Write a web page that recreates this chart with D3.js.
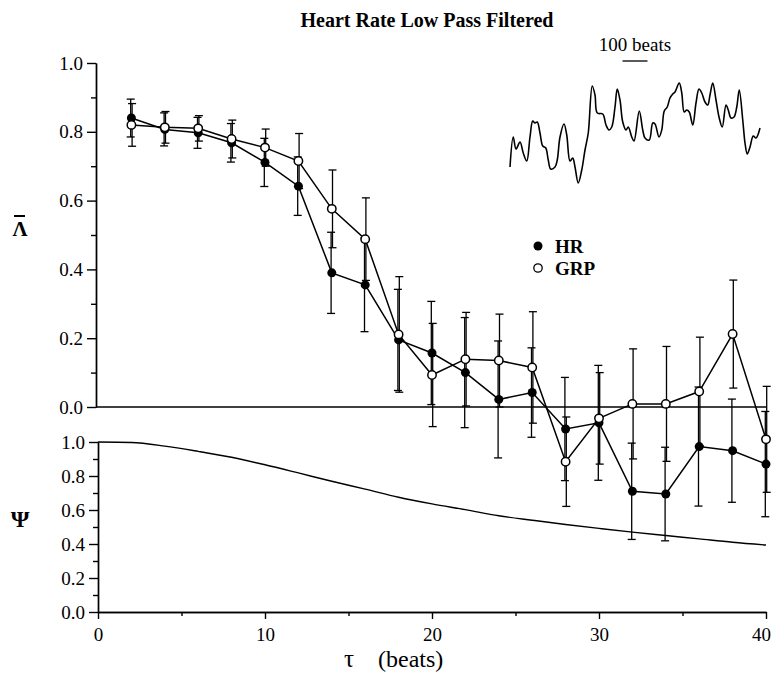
<!DOCTYPE html>
<html>
<head>
<meta charset="utf-8">
<script src="https://cdn.jsdelivr.net/npm/d3@7"></script>
<style>
  body { margin: 0; background: #fff; }
  svg { display: block; font-family: "Liberation Serif", "Times New Roman", serif; }
  .axis path, .axis line { stroke: #000; stroke-width: 1.4; }
  .axis text { font-family: "Liberation Serif", serif; font-size: 19px; fill: #000; }
</style>
</head>
<body>
<svg id="chart" width="772" height="676"></svg>
<script>
// lag values (beats)
const tau = [2, 4, 6, 8, 10, 12, 14, 16, 18, 20, 22, 24, 26, 28, 30, 32, 34, 36, 38, 40];

// HR (filled circles)
const hrMean = [0.84, 0.807, 0.797, 0.768, 0.711, 0.642, 0.39, 0.355, 0.195, 0.157,
                0.10, 0.022, 0.042, -0.064, -0.046, -0.245, -0.253, -0.115, -0.127, -0.166];
const hrErr  = [0.055, 0.048, 0.045, 0.056, 0.07, 0.085, 0.118, 0.136, 0.147, 0.15,
                0.16, 0.17, 0.13, 0.15, 0.167, 0.14, 0.136, 0.173, 0.15, 0.153];

// GRP (open circles)
const grpMean = [0.82, 0.813, 0.81, 0.779, 0.754, 0.715, 0.576, 0.488, 0.211, 0.093,
                 0.139, 0.135, 0.115, -0.159, -0.033, 0.009, 0.009, 0.045, 0.212, -0.094];
const grpErr  = [0.062, 0.046, 0.037, 0.055, 0.054, 0.08, 0.113, 0.12, 0.168, 0.15,
                 0.136, 0.135, 0.162, 0.13, 0.133, 0.16, 0.167, 0.158, 0.157, 0.154];

// Psi curve
const psiTau = [0, 2, 4, 6, 8, 10, 12, 14, 16, 18, 20, 22, 24, 26, 28, 30, 32, 34, 36, 38, 40];
const psiVal = [1.0, 0.997, 0.976, 0.945, 0.91, 0.866, 0.818, 0.769, 0.723, 0.675, 0.636,
                0.602, 0.566, 0.54, 0.515, 0.492, 0.47, 0.45, 0.43, 0.41, 0.394];

// inset trace: heart rate (arbitrary units) vs beat number
const insetBeat = [0, 13, 24, 40, 53, 67, 80, 91, 100, 109, 120, 131, 143, 153, 163, 180, 189, 200,
  216, 227, 240, 251, 260, 273, 287, 300, 313, 329, 340, 349, 371, 384, 396, 407, 420, 429, 440,
  451, 464, 473, 487, 496, 517, 531, 540, 557, 571, 580, 596, 607, 617, 629, 640, 651, 660, 677,
  687, 697, 707, 717, 731, 744, 756, 767, 780, 791, 800, 811, 824, 836, 849, 864, 873, 884, 896,
  907, 917, 931, 940, 949, 960, 973, 984, 1000];
const insetRate = [18, 48, 36, 43, 32, 24, 48, 64, 62, 63, 52, 39, 37, 25, 16, 18, 25, 48,
  61, 50, 24, 27, 18, 2, 15, 35, 52, 99, 90, 72, 71, 60, 55, 58, 78, 96, 85,
  63, 55, 58, 48, 44, 74, 55, 47, 45, 62, 61, 48, 55, 74, 78, 87, 91, 93, 102,
  92, 73, 75, 73, 60, 82, 96, 92, 83, 80, 90, 102, 85, 68, 58, 80, 75, 67, 68,
  78, 95, 65, 42, 31, 38, 49, 47, 57];

const lamTicks = [0, 0.2, 0.4, 0.6, 0.8, 1.0];
const lamMinor = [0.1, 0.3, 0.5, 0.7, 0.9];
const xTicks = [0, 10, 20, 30, 40];
const xMinor = [5, 15, 25, 35];

const svg = d3.select('#chart');

const x = d3.scaleLinear().domain([0, 40]).range([98, 766]);
const yTop = d3.scaleLinear().domain([0, 1]).range([407, 63]);
const yBot = d3.scaleLinear().domain([0, 1]).range([612, 442]);

// title
svg.append('text')
    .attr('x', 427).attr('y', 27)
    .attr('text-anchor', 'middle')
    .style('font-size', '20px')
    .style('font-weight', 'bold')
    .text('Heart Rate Low Pass Filtered');

// top y axis (Lambda)
svg.append('g').attr('class', 'axis')
    .attr('transform', 'translate(96,0)')
    .call(d3.axisLeft(yTop).tickValues(lamTicks).tickSize(9).tickSizeOuter(0)
        .tickPadding(4).tickFormat(d3.format('.1f')));
svg.append('g').attr('class', 'axis')
    .attr('transform', 'translate(96,0)')
    .call(d3.axisLeft(yTop).tickValues(lamMinor).tickSize(5).tickSizeOuter(0).tickFormat(''));

// zero line of top panel
svg.append('line')
    .attr('x1', 96).attr('x2', x(40))
    .attr('y1', yTop(0)).attr('y2', yTop(0))
    .attr('stroke', '#000').attr('stroke-width', 1.5);

// bottom y axis (Psi)
svg.append('g').attr('class', 'axis')
    .attr('transform', `translate(${x(0)},0)`)
    .call(d3.axisLeft(yBot).tickValues(lamTicks).tickSize(9).tickSizeOuter(0)
        .tickPadding(4).tickFormat(d3.format('.1f')));
svg.append('g').attr('class', 'axis')
    .attr('transform', `translate(${x(0)},0)`)
    .call(d3.axisLeft(yBot).tickValues(lamMinor).tickSize(5).tickSizeOuter(0).tickFormat(''));

// x axis
const xAxis = svg.append('g').attr('class', 'axis')
    .attr('transform', `translate(0,${yBot(0)})`)
    .call(d3.axisBottom(x).tickValues(xTicks).tickSize(7).tickSizeOuter(0).tickPadding(9));
// last label sits against the right edge
xAxis.selectAll('.tick text').filter(d => d === 40).attr('dx', -5);
svg.append('g').attr('class', 'axis')
    .attr('transform', `translate(0,${yBot(0)})`)
    .call(d3.axisBottom(x).tickValues(xMinor).tickSize(4).tickSizeOuter(0).tickFormat(''));

// axis titles
svg.append('text').attr('x', 20).attr('y', 236)
    .attr('text-anchor', 'middle').style('font-size', '21px').style('font-weight', 'bold')
    .text('Λ');
svg.append('line').attr('x1', 14).attr('x2', 25).attr('y1', 216).attr('y2', 216)
    .attr('stroke', '#000').attr('stroke-width', 2);
svg.append('text').attr('x', 20).attr('y', 527)
    .attr('text-anchor', 'middle').style('font-size', '24px').style('font-weight', 'bold')
    .text('Ψ');
svg.append('text').attr('x', 349).attr('y', 667)
    .attr('text-anchor', 'middle').style('font-size', '25px')
    .text('τ');
svg.append('text').attr('x', 378).attr('y', 667)
    .style('font-size', '24px')
    .text('(beats)');

// psi curve
svg.append('path')
    .datum(psiTau.map((t, i) => [t, psiVal[i]]))
    .attr('fill', 'none').attr('stroke', '#000').attr('stroke-width', 1.4)
    .attr('d', d3.line().x(d => x(d[0])).y(d => yBot(d[1])).curve(d3.curveMonotoneX));

// error bars (two series side by side)
function errorBars(means, errs, dx) {
    const g = svg.append('g').attr('stroke', '#000').attr('stroke-width', 1.3);
    tau.forEach((t, i) => {
        const cx = x(t) + dx;
        const lo = yTop(means[i] - errs[i]);
        const hi = yTop(means[i] + errs[i]);
        g.append('line').attr('x1', cx).attr('x2', cx).attr('y1', lo).attr('y2', hi);
        g.append('line').attr('x1', cx - 4).attr('x2', cx + 4).attr('y1', lo).attr('y2', lo);
        g.append('line').attr('x1', cx - 4).attr('x2', cx + 4).attr('y1', hi).attr('y2', hi);
    });
}
errorBars(hrMean, hrErr, -0.7);
errorBars(grpMean, grpErr, 0.7);

const line = d3.line().x(d => x(d[0])).y(d => yTop(d[1]));
svg.append('path')
    .datum(tau.map((t, i) => [t, hrMean[i]]))
    .attr('fill', 'none').attr('stroke', '#000').attr('stroke-width', 1.5)
    .attr('d', line);
svg.append('path')
    .datum(tau.map((t, i) => [t, grpMean[i]]))
    .attr('fill', 'none').attr('stroke', '#000').attr('stroke-width', 1.5)
    .attr('d', line);

svg.append('g').selectAll('circle')
    .data(tau.map((t, i) => [t, hrMean[i]]))
    .join('circle')
    .attr('cx', d => x(d[0])).attr('cy', d => yTop(d[1])).attr('r', 4.5)
    .attr('fill', '#000');
svg.append('g').selectAll('circle')
    .data(tau.map((t, i) => [t, grpMean[i]]))
    .join('circle')
    .attr('cx', d => x(d[0])).attr('cy', d => yTop(d[1])).attr('r', 4.2)
    .attr('fill', '#fff').attr('stroke', '#000').attr('stroke-width', 1.5);

// legend
svg.append('circle').attr('cx', 538).attr('cy', 246).attr('r', 4.5).attr('fill', '#000');
svg.append('circle').attr('cx', 538).attr('cy', 268).attr('r', 4.2)
    .attr('fill', '#fff').attr('stroke', '#000').attr('stroke-width', 1.3);
svg.append('text').attr('x', 555).attr('y', 253)
    .style('font-size', '19px').style('font-weight', 'bold').text('HR');
svg.append('text').attr('x', 555).attr('y', 275)
    .style('font-size', '19px').style('font-weight', 'bold').text('GRP');

// inset trace
const ix = d3.scaleLinear().domain([0, 1000]).range([510, 760]);
const iy = d3.scaleLinear().domain([0, 105]).range([185, 80]);
svg.append('path')
    .datum(insetBeat.map((b, i) => [b, insetRate[i]]))
    .attr('fill', 'none').attr('stroke', '#000').attr('stroke-width', 1.6)
    .attr('d', d3.line().x(d => ix(d[0])).y(d => iy(d[1])).curve(d3.curveCatmullRom));

// scale bar: 100 beats
svg.append('line')
    .attr('x1', ix(450)).attr('x2', ix(550))
    .attr('y1', 61).attr('y2', 61)
    .attr('stroke', '#000').attr('stroke-width', 1.3);
svg.append('text').attr('x', 635).attr('y', 51)
    .attr('text-anchor', 'middle').style('font-size', '19px')
    .text('100 beats');
</script>
</body>
</html>
